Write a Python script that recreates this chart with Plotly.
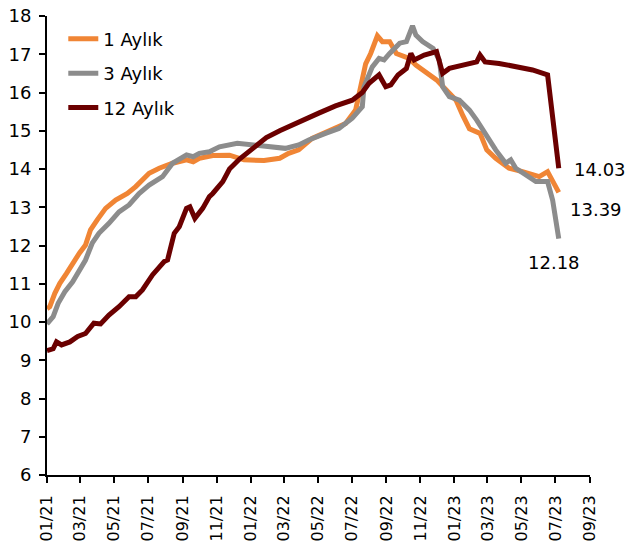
import plotly.graph_objects as go

# 1 Aylık
d1 = ["2021-01-01","2021-01-06","2021-01-15","2021-01-24","2021-02-05","2021-02-16","2021-02-28",
      "2021-03-11","2021-03-20","2021-04-01","2021-04-16","2021-05-04","2021-05-25","2021-06-09",
      "2021-07-03","2021-07-21","2021-08-14","2021-09-08","2021-09-20","2021-10-01","2021-10-25",
      "2021-11-24","2021-12-20","2022-01-25","2022-02-22","2022-03-10","2022-03-28","2022-04-21",
      "2022-05-27","2022-06-20","2022-07-08","2022-07-20","2022-07-26","2022-08-04","2022-08-16",
      "2022-08-25","2022-09-07","2022-09-19","2022-10-01","2022-10-12","2022-10-24","2022-11-11",
      "2022-11-30","2022-12-17","2023-01-04","2023-01-16","2023-01-28","2023-02-16","2023-02-28",
      "2023-03-16","2023-04-09","2023-05-03","2023-05-15","2023-06-02","2023-06-17","2023-06-26",
      "2023-07-07"]
v1 = [10.35,10.40,10.75,11.01,11.27,11.53,11.80,
      12.01,12.41,12.67,12.97,13.19,13.36,13.54,
      13.89,14.02,14.15,14.24,14.19,14.28,14.35,
      14.36,14.24,14.22,14.28,14.41,14.50,14.80,
      15.02,15.19,15.54,16.30,16.75,17.02,17.48,
      17.33,17.33,17.02,16.94,16.89,16.72,16.54,
      16.33,16.07,15.80,15.40,15.05,14.93,14.50,
      14.28,14.02,13.93,13.89,13.80,13.93,13.71,
      13.39]

# 3 Aylık
d3 = ["2021-01-01","2021-01-12","2021-01-21","2021-02-02","2021-02-16","2021-02-28","2021-03-11",
      "2021-03-23","2021-04-04","2021-04-22","2021-05-10","2021-05-28","2021-06-15","2021-07-03",
      "2021-07-27","2021-08-14","2021-09-08","2021-09-20","2021-10-01","2021-10-19","2021-11-06",
      "2021-12-08","2022-01-11","2022-02-16","2022-03-04","2022-03-28","2022-04-15","2022-05-15",
      "2022-06-08","2022-07-02","2022-07-20","2022-07-23","2022-08-07","2022-08-19","2022-08-28",
      "2022-09-07","2022-09-16","2022-09-25","2022-10-07","2022-10-12","2022-10-18","2022-10-24",
      "2022-11-05","2022-11-24","2022-12-05","2022-12-11","2022-12-23","2023-01-10","2023-01-28",
      "2023-02-10","2023-02-28","2023-03-16","2023-04-03","2023-04-12","2023-04-21","2023-05-09",
      "2023-05-27","2023-06-17","2023-06-26","2023-07-07"]
v3 = [9.95,10.14,10.49,10.79,11.05,11.36,11.62,
      12.06,12.32,12.58,12.88,13.06,13.36,13.58,
      13.80,14.15,14.37,14.32,14.41,14.45,14.58,
      14.67,14.63,14.58,14.54,14.63,14.76,14.93,
      15.06,15.33,15.63,16.15,16.67,16.89,16.85,
      17.02,17.15,17.29,17.33,17.55,17.74,17.50,
      17.33,17.15,16.85,16.15,15.89,15.80,15.54,
      15.28,14.84,14.50,14.15,14.24,14.02,13.84,
      13.67,13.67,13.19,12.18]

# 12 Aylık
d12 = ["2021-01-01","2021-01-12","2021-01-18","2021-01-27","2021-02-11","2021-02-25","2021-03-11",
       "2021-03-26","2021-04-07","2021-04-22","2021-05-10","2021-05-28","2021-06-09","2021-06-21",
       "2021-07-09","2021-07-30","2021-08-05","2021-08-17","2021-08-26","2021-09-08","2021-09-14",
       "2021-09-23","2021-10-07","2021-10-19","2021-10-25","2021-11-12","2021-11-24","2021-12-12",
       "2022-01-05","2022-01-29","2022-02-22","2022-03-16","2022-04-09","2022-05-03","2022-06-02",
       "2022-07-02","2022-07-20","2022-08-01","2022-08-19","2022-08-31","2022-09-09","2022-09-22",
       "2022-10-07","2022-10-15","2022-10-21","2022-11-08","2022-11-30","2022-12-11","2022-12-23",
       "2023-01-16","2023-02-10","2023-02-16","2023-02-25","2023-03-22","2023-04-27","2023-05-21",
       "2023-06-17","2023-07-07"]
v12 = [9.25,9.30,9.48,9.40,9.48,9.62,9.70,
       9.97,9.95,10.18,10.40,10.66,10.66,10.84,
       11.23,11.58,11.62,12.32,12.49,12.97,13.01,
       12.71,12.97,13.28,13.36,13.67,14.00,14.26,
       14.54,14.82,15.00,15.15,15.33,15.46,15.65,
       15.80,16.00,16.24,16.46,16.15,16.20,16.46,
       16.63,17.02,16.85,16.98,17.07,16.50,16.63,
       16.72,16.80,16.98,16.80,16.76,16.67,16.59,
       16.46,14.02]

names = ["1 Aylık", "3 Aylık", "12 Aylık"]
colors = ["#F08535", "#8C8C8C", "#6B0000"]
end_labels = ["13.39", "12.18", "14.03"]
tick_dates = ["2021-01-01","2021-03-01","2021-05-01","2021-07-01","2021-09-01",
              "2021-11-01","2022-01-01","2022-03-01","2022-05-01","2022-07-01",
              "2022-09-01","2022-11-01","2023-01-01","2023-03-01","2023-05-01",
              "2023-07-01","2023-09-01"]

FONT = "DejaVu Sans"
fig = go.Figure()
for i, (d, v) in enumerate([(d1, v1), (d3, v3), (d12, v12)]):
    fig.add_trace(go.Scatter(x=d, y=v, mode="lines", name=names[i],
                             legendgroup=str(i),
                             line=dict(color=colors[i], width=5)))

# end-value labels
fig.add_annotation(x=d12[-1], y=v12[-1], text=end_labels[2], showarrow=False,
                   xanchor="left", yanchor="middle", xshift=13, yshift=-1,
                   font=dict(family=FONT, size=18, color="black"))
fig.add_annotation(x=d1[-1], y=v1[-1], text=end_labels[0], showarrow=False,
                   xanchor="left", yanchor="middle", xshift=9, yshift=-17,
                   font=dict(family=FONT, size=18, color="black"))
fig.add_annotation(x=d3[-1], y=v3[-1], text=end_labels[1], showarrow=False,
                   xanchor="center", yanchor="middle", xshift=-5, yshift=-24,
                   font=dict(family=FONT, size=18, color="black"))

fig.update_layout(
    width=629, height=547,
    margin=dict(l=47, r=39, t=16, b=72, autoexpand=False),
    paper_bgcolor="white", plot_bgcolor="white",
    font=dict(family=FONT, size=18, color="black"),
    showlegend=True,
    legend=dict(x=0.03, y=0.99, xanchor="left", yanchor="top",
                bgcolor="rgba(0,0,0,0)", tracegroupgap=8,
                font=dict(family=FONT, size=18, color="black"),
                itemwidth=30),
    xaxis=dict(type="date", range=["2021-01-01", "2023-09-01"],
               tickmode="array", tickvals=tick_dates,
               tickformat="%m/%y", tickangle=-90, automargin=False,
               tickfont=dict(family=FONT, size=16, color="black"),
               ticklabelstandoff=6,
               showgrid=False, zeroline=False,
               showline=True, linecolor="black", linewidth=2,
               ticks="outside", ticklen=6, tickwidth=2, tickcolor="black"),
    yaxis=dict(range=[6, 18], dtick=1, showgrid=False, zeroline=False,
               automargin=False,
               tickfont=dict(family=FONT, size=18, color="black"),
               ticklabelstandoff=4,
               showline=True, linecolor="black", linewidth=2,
               ticks="outside", ticklen=6, tickwidth=2, tickcolor="black"),
)

fig.write_html("out.html", config={"displayModeBar": False},
               post_script="document.body.style.margin='0px';")
